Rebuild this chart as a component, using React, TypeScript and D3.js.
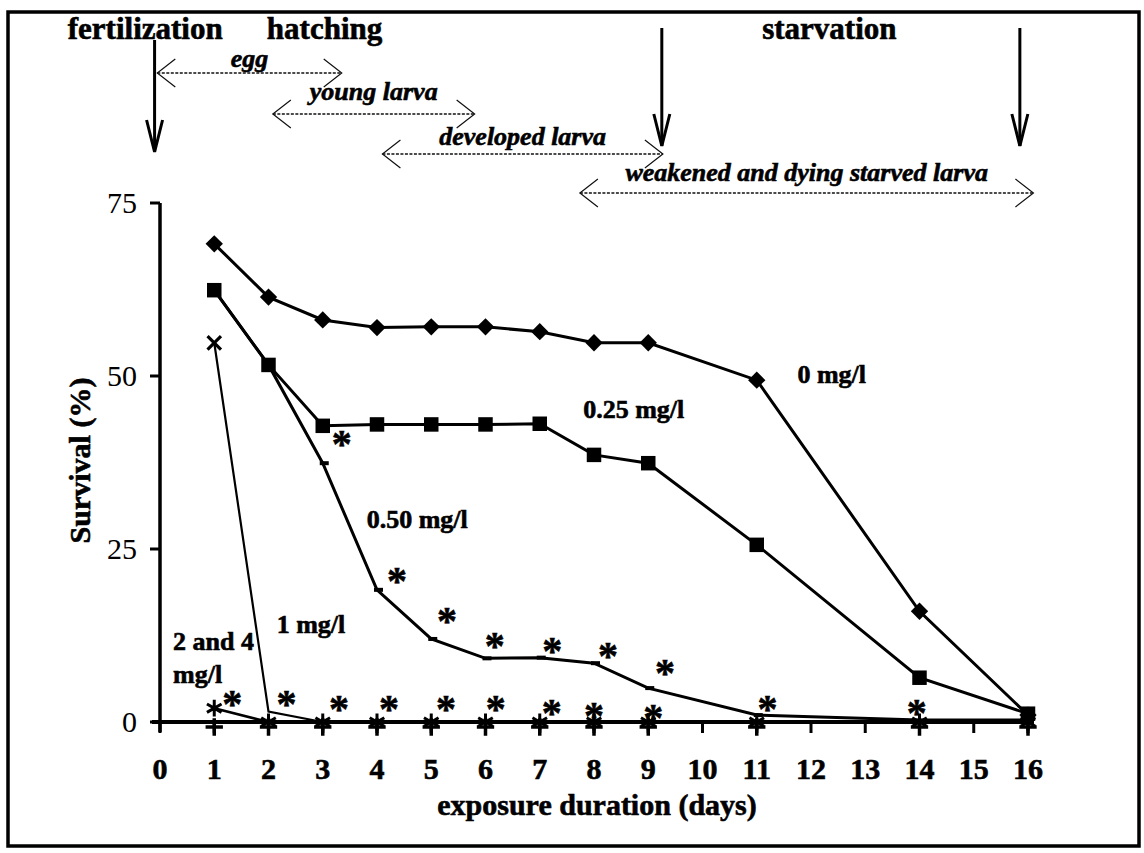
import React from 'react';
import * as d3 from 'd3';

// exposure days with measurements
const days = [1, 2, 3, 4, 5, 6, 7, 8, 9, 11, 14, 16];
const xTicks = d3.range(0, 17);
const yTicks = [0, 25, 50, 75];

// survival (%) per concentration
const surv0 = [69.1, 61.4, 58.1, 57.0, 57.1, 57.1, 56.4, 54.8, 54.8, 49.4, 16.0, 1.0];
const surv025 = [62.4, 51.6, 42.8, 43.0, 43.0, 43.0, 43.1, 38.6, 37.4, 25.6, 6.4, 1.2];
const surv050 = [62.4, 51.6, 37.4, 19.1, 12.0, 9.2, 9.3, 8.5, 4.9, 1.0, 0.3, 0.3];
const surv1 = [54.8, 1.5, 0, 0, 0, 0, 0, 0, 0, 0, 0, 0];
const surv2 = [2.0, 0, 0, 0, 0, 0, 0, 0, 0, 0, 0, 0];
const surv4 = [0, 0, 0, 0, 0, 0, 0, 0, 0, 0, 0, 0];

// significance stars [day, survival]
const starsUpper = [[3.35, 41.0], [4.37, 21.2], [5.29, 15.5], [6.17, 11.8], [7.23, 11.1], [8.26, 10.4], [9.31, 7.9]];
const starsLower = [[1.33, 3.4], [2.33, 3.4], [3.3, 2.7], [4.22, 2.7], [5.27, 2.7], [6.19, 2.7], [7.22, 2.2], [8.0, 1.8], [9.09, 1.5], [11.2, 2.7], [13.95, 2.2]];

// events (vertical arrows) and life stages (double arrows), in days
const events = [
    { name: 'fertilization', day: -0.1, labelDay: -1.7 },
    { name: 'hatching', day: 9.25, labelDay: 1.97 },
    { name: 'starvation', day: 15.85, labelDay: 11.1 }
];
const stages = [
    { name: 'egg', from: -0.05, to: 3.35, row: 0 },
    { name: 'young larva', from: 2.08, to: 5.8, row: 1 },
    { name: 'developed larva', from: 4.1, to: 9.27, row: 2 },
    { name: 'weakened and dying starved larva', from: 7.74, to: 16.1, row: 3 }
];

const seriesLabels = [
    { text: '0 mg/l', day: 11.75, v: 49.0 },
    { text: '0.25 mg/l', day: 7.8, v: 44.0 },
    { text: '0.50 mg/l', day: 3.81, v: 28.0 },
    { text: '1 mg/l', day: 2.15, v: 12.8 },
    { text: '2 and 4', day: 0.24, v: 10.4 },
    { text: 'mg/l', day: 0.24, v: 5.6 }
];

const W = 1144;
const H = 853;
const serif = '"Liberation Serif", "Times New Roman", serif';

export default function App() {
    const x = d3.scaleLinear().domain([0, 16]).range([160, 1028]);
    const y = d3.scaleLinear().domain([0, 75]).range([722, 203]);
    const line = d3
        .line<number>()
        .x((d, i) => x(days[i]))
        .y((d) => y(d));

    const diamond = d3.symbol(d3.symbolSquare, 150)();
    const square = d3.symbol(d3.symbolSquare, 210)();
    const times = d3.symbol(d3.symbolTimes, 120)();
    const aster = d3.symbol(d3.symbolAsterisk, 200)();
    const plus = d3.symbol(d3.symbolPlus, 100)();

    const stageY = [73, 114, 154, 193];
    const stageText = [67, 100, 145, 181];
    const heavy = { stroke: '#000', strokeWidth: 0.6 };

    return (
        <svg
            width={W}
            height={H}
            style={{ position: 'absolute', left: 0, top: 0, background: '#fff' }}
            fontFamily={serif}
        >
            <rect x={8} y={12} width={1131} height={834} fill="none" stroke="#000" strokeWidth={3.5} />

            {/* events */}
            {events.map((e, i) => {
                const ex = x(e.day);
                const y0 = i === 0 ? 40 : 28;
                const y1 = i === 0 ? 152 : 146;
                return (
                    <g key={e.name}>
                        <text x={x(e.labelDay)} y={39} fontSize={31} fontWeight="bold" {...heavy}>
                            {e.name}
                        </text>
                        <line x1={ex} x2={ex} y1={y0} y2={y1} stroke="#000" strokeWidth={3} />
                        <path
                            d={`M${ex - 8},${y1 - 32}L${ex},${y1}L${ex + 8},${y1 - 32}`}
                            fill="none"
                            stroke="#000"
                            strokeWidth={3}
                        />
                    </g>
                );
            })}

            {/* stages */}
            {stages.map((s) => {
                const x0 = x(s.from);
                const x1 = x(s.to);
                const sy = stageY[s.row];
                return (
                    <g key={s.name}>
                        <line x1={x0} x2={x1} y1={sy} y2={sy} stroke="#111" strokeWidth={1.4} strokeDasharray="3,1.5" />
                        <path
                            d={`M${x0 + 18},${sy - 14}L${x0},${sy}L${x0 + 18},${sy + 14}M${x1 - 18},${sy - 14}L${x1},${sy}L${x1 - 18},${sy + 14}`}
                            fill="none"
                            stroke="#111"
                            strokeWidth={1.2}
                        />
                        <text
                            x={(x0 + x1) / 2}
                            y={stageText[s.row]}
                            textAnchor="middle"
                            fontSize={26}
                            fontWeight="bold"
                            fontStyle="italic"
                            {...heavy}
                        >
                            {s.name}
                        </text>
                    </g>
                );
            })}

            {/* axes */}
            <line x1={x(0)} x2={x(0)} y1={y(75)} y2={y(0) + 10} stroke="#000" strokeWidth={3.5} />
            {yTicks.map((t) => (
                <g key={t}>
                    <line x1={x(0) - 10} x2={x(0)} y1={y(t)} y2={y(t)} stroke="#000" strokeWidth={3} />
                    <text x={137} y={y(t) + 10} textAnchor="end" fontSize={30}>
                        {t}
                    </text>
                </g>
            ))}
            <line x1={x(0) - 8} x2={x(16) + 6} y1={y(0)} y2={y(0)} stroke="#000" strokeWidth={4} />
            {xTicks.map((t) => (
                <g key={t}>
                    <line x1={x(t)} x2={x(t)} y1={y(0)} y2={y(0) + 11} stroke="#000" strokeWidth={3} />
                    <text x={x(t)} y={779} textAnchor="middle" fontSize={30} fontWeight="bold" {...heavy}>
                        {t}
                    </text>
                </g>
            ))}
            <text x={597} y={815} textAnchor="middle" fontSize={30} fontWeight="bold" {...heavy}>
                exposure duration (days)
            </text>
            <text
                transform={`translate(90, ${y(37.5) - 2}) rotate(-90)`}
                textAnchor="middle"
                fontSize={30}
                fontWeight="bold"
                {...heavy}
            >
                Survival (%)
            </text>

            {/* series lines */}
            <path d={line(surv4) || ''} fill="none" stroke="#000" strokeWidth={3} />
            <path d={line(surv2) || ''} fill="none" stroke="#000" strokeWidth={2.6} />
            <path d={line(surv1) || ''} fill="none" stroke="#000" strokeWidth={2.2} />
            <path d={line(surv050) || ''} fill="none" stroke="#000" strokeWidth={3} />
            <path d={line(surv025) || ''} fill="none" stroke="#000" strokeWidth={3} />
            <path d={line(surv0) || ''} fill="none" stroke="#000" strokeWidth={3} />

            {/* markers */}
            {surv4.map((v, i) => (
                <path key={'p' + i} d={plus} transform={`translate(${x(days[i])},${y(v) + 5})`} stroke="#000" strokeWidth={3.5} fill="none" />
            ))}
            {surv2.map((v, i) => (
                <path key={'a' + i} d={aster} transform={`translate(${x(days[i])},${y(v)})`} stroke="#000" strokeWidth={3} fill="none" />
            ))}
            {surv050.slice(0, 10).map((v, i) => (
                <rect key={'d' + i} x={x(days[i]) - 3} y={y(v) - 2} width={9} height={4} fill="#000" />
            ))}
            <path d={times} transform={`translate(${x(days[0])},${y(surv1[0])})`} stroke="#000" strokeWidth={3.2} fill="none" />
            {surv025.map((v, i) => (
                <path key={'s' + i} d={square} transform={`translate(${x(days[i])},${y(v)})`} fill="#000" />
            ))}
            {surv0.map((v, i) => (
                <path key={'m' + i} d={diamond} transform={`translate(${x(days[i])},${y(v)}) rotate(45)`} fill="#000" />
            ))}

            {/* significance stars */}
            {[...starsUpper, ...starsLower].map(([d, v], i) => (
                <text key={'st' + i} x={x(d)} y={y(v) + 19} textAnchor="middle" fontSize={40} fontWeight="bold" {...heavy}>
                    *
                </text>
            ))}

            {/* series labels */}
            {seriesLabels.map((l) => (
                <text key={l.text} x={x(l.day)} y={y(l.v)} fontSize={26} fontWeight="bold" {...heavy}>
                    {l.text}
                </text>
            ))}
        </svg>
    );
}
